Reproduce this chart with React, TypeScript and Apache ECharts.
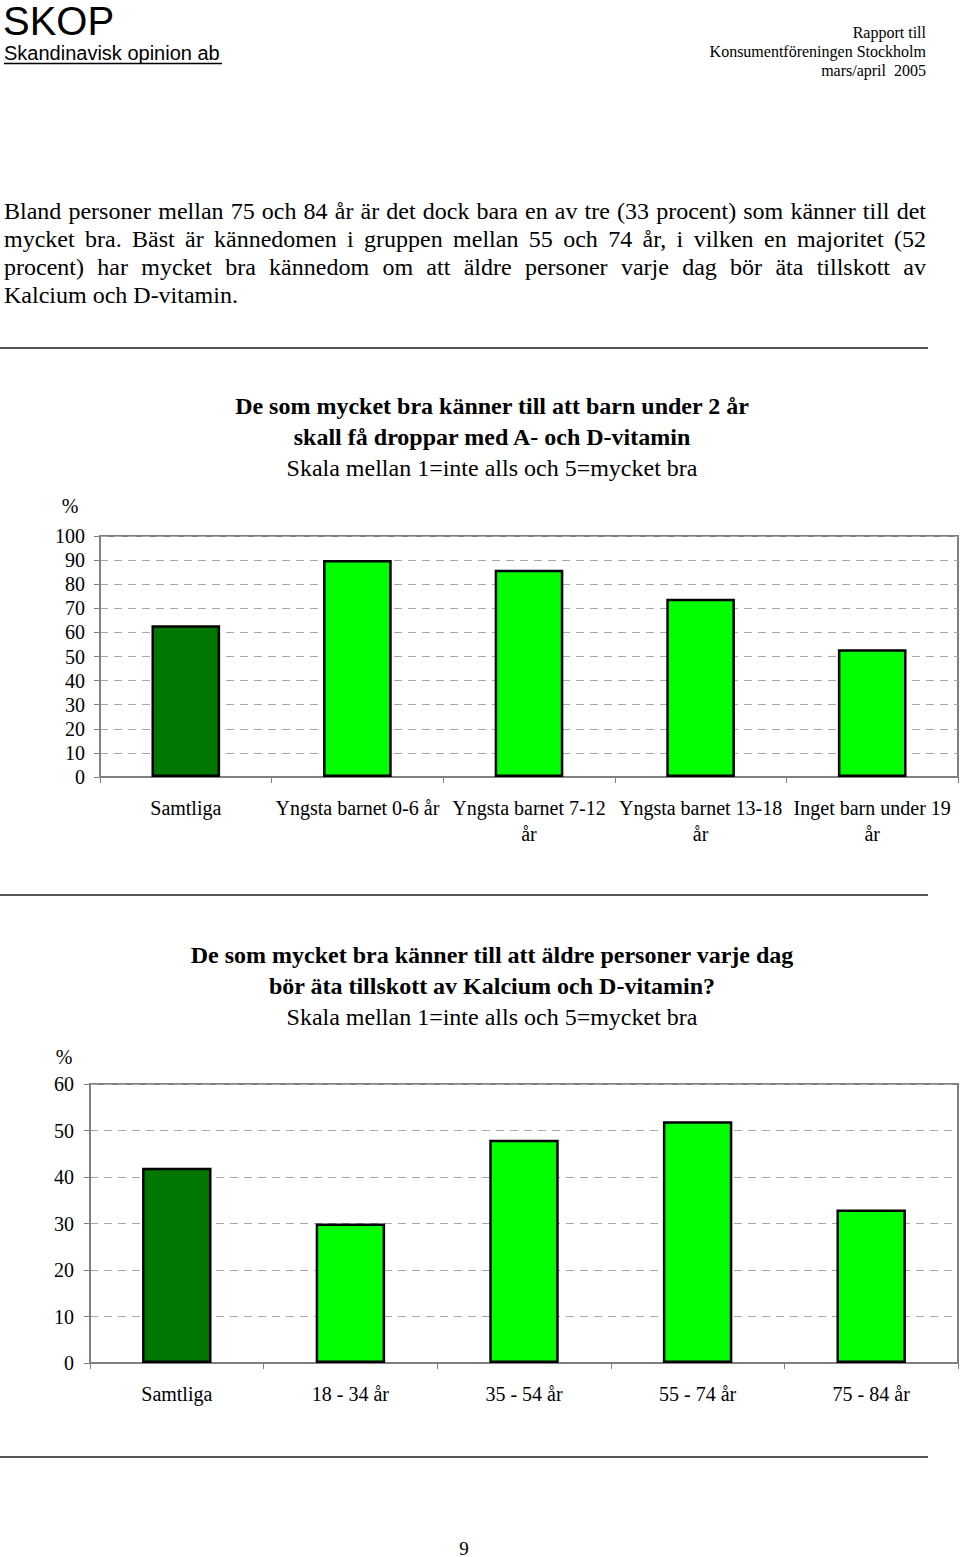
import React, { useEffect, useRef } from "react";
import * as echarts from "echarts";

const SERIF = "'Liberation Serif', 'Times New Roman', serif";
const SANS = "'Liberation Sans', Arial, sans-serif";

const headerRight = ["Rapport till", "Konsumentföreningen Stockholm", "mars/april\u00a0 2005"];

const paragraphLines = [
  "Bland personer mellan 75 och 84 år är det dock bara en av tre (33 procent) som känner till det",
  "mycket bra. Bäst är kännedomen i gruppen mellan 55 och 74 år, i vilken en majoritet (52",
  "procent) har mycket bra kännedom om att äldre personer varje dag bör äta tillskott av",
  "Kalcium och D-vitamin.",
];

const chart1Title = [
  "De som mycket bra känner till att barn under 2 år",
  "skall få droppar med A- och D-vitamin",
  "Skala mellan 1=inte alls och 5=mycket bra",
];
const chart1Categories = [
  "Samtliga",
  "Yngsta barnet 0-6 år",
  "Yngsta barnet 7-12\når",
  "Yngsta barnet 13-18\når",
  "Inget barn under 19\når",
];
const chart1Values = [63, 90, 86, 74, 53];

const chart2Title = [
  "De som mycket bra känner till att äldre personer varje dag",
  "bör äta tillskott av Kalcium och D-vitamin?",
  "Skala mellan 1=inte alls och 5=mycket bra",
];
const chart2Categories = ["Samtliga", "18 - 34 år", "35 - 54 år", "55 - 74 år", "75 - 84 år"];
const chart2Values = [42, 30, 48, 52, 33];

const DARK = "#007800";
const BRIGHT = "#00ff00";

function txt(text: string, x: number, y: number, font: string, align = "left", extra: any = {}) {
  return {
    type: "text",
    x,
    y,
    silent: true,
    style: {
      text,
      font,
      fill: "#000",
      align,
      verticalAlign: "middle",
      textAlign: align,
      textVerticalAlign: "middle",
      ...extra,
    },
  };
}

function justified(text: string, y: number, left: number, right: number, font: string, justify: boolean) {
  if (!justify) return [txt(text, left, y, font)];
  const ctx = document.createElement("canvas").getContext("2d")!;
  ctx.font = font;
  const words = text.split(" ");
  const widths = words.map((w) => ctx.measureText(w).width);
  const total = widths.reduce((a, b) => a + b, 0);
  const gap = (right - left - total) / (words.length - 1);
  let x = left;
  return words.map((w, i) => {
    const el = txt(w, x, y, font);
    x += widths[i] + gap;
    return el;
  });
}

function barData(values: number[]) {
  return values.map((v, i) => ({
    value: v,
    itemStyle: { color: i === 0 ? DARK : BRIGHT },
  }));
}

export default function App() {
  const ref = useRef<HTMLDivElement>(null);

  useEffect(() => {
    document.body.style.margin = "0";
    const chart = echarts.init(ref.current!, null, { renderer: "svg" });

    const pFont = `24px ${SERIF}`;
    const graphics: any[] = [];
    graphics.push(txt("SKOP", 3, 21, `40px ${SANS}`));
    graphics.push(txt("Skandinavisk opinion ab", 4, 53, `20px ${SANS}`));
    graphics.push({
      type: "line",
      silent: true,
      shape: { x1: 4, y1: 63.5, x2: 222, y2: 63.5 },
      style: { stroke: "#000", lineWidth: 1.5 },
    });
    headerRight.forEach((t, i) => graphics.push(txt(t, 926, 32 + i * 19, `16px ${SERIF}`, "right")));

    paragraphLines.forEach((t, i) => {
      graphics.push(...justified(t, 211 + i * 28, 4, 926, pFont, i < paragraphLines.length - 1));
    });

    [348, 895, 1457].forEach((y) =>
      graphics.push({
        type: "line",
        silent: true,
        shape: { x1: 0, y1: y, x2: 928, y2: y },
        style: { stroke: "#555", lineWidth: 2 },
      })
    );

    chart1Title.forEach((t, i) =>
      graphics.push(txt(t, 492, 406 + i * 31, `${i < 2 ? "bold " : ""}24px ${SERIF}`, "center"))
    );
    chart2Title.forEach((t, i) =>
      graphics.push(txt(t, 492, 955 + i * 31, `${i < 2 ? "bold " : ""}24px ${SERIF}`, "center"))
    );
    graphics.push(txt("%", 70, 506, `20px ${SERIF}`, "center"));
    graphics.push(txt("%", 64, 1057, `20px ${SERIF}`, "center"));
    graphics.push(txt("9", 464, 1548, `19px ${SERIF}`, "center"));

    const xAxisBase = (gridIndex: number, data: string[]) => ({
      type: "category",
      gridIndex,
      data,
      axisLine: { show: true, lineStyle: { color: "#808080", width: 2 } },
      axisTick: { show: true, length: 6, lineStyle: { color: "#808080", width: 1 } },
      axisLabel: {
        interval: 0,
        fontFamily: SERIF,
        fontSize: 20,
        color: "#000",
        margin: 18,
        lineHeight: 26,
      },
      splitLine: { show: false },
    });
    const yAxisBase = (gridIndex: number, max: number, margin: number) => ({
      type: "value",
      gridIndex,
      min: 0,
      max,
      interval: 10,
      axisLine: { show: true, lineStyle: { color: "#808080", width: 2 } },
      axisTick: { show: true, length: 6, lineStyle: { color: "#808080", width: 1 } },
      axisLabel: { fontFamily: SERIF, fontSize: 20, color: "#000", margin },
      splitLine: { show: true, lineStyle: { color: "#a8a8a8", type: [8, 6], width: 1 } },
    });

    chart.setOption({
      animation: false,
      backgroundColor: "#fff",
      grid: [
        { left: 100, top: 536, width: 858, height: 241, show: true, borderColor: "#808080", borderWidth: 2, backgroundColor: "transparent" },
        { left: 90, top: 1084, width: 868, height: 279, show: true, borderColor: "#808080", borderWidth: 2, backgroundColor: "transparent" },
      ],
      xAxis: [xAxisBase(0, chart1Categories), xAxisBase(1, chart2Categories)],
      yAxis: [yAxisBase(0, 100, 15), yAxisBase(1, 60, 16)],
      series: [
        {
          type: "bar",
          xAxisIndex: 0,
          yAxisIndex: 0,
          barWidth: "40%",
          data: barData(chart1Values),
          itemStyle: { borderColor: "#000", borderWidth: 2.5 },
        },
        {
          type: "bar",
          xAxisIndex: 1,
          yAxisIndex: 1,
          barWidth: "40%",
          data: barData(chart2Values),
          itemStyle: { borderColor: "#000", borderWidth: 2.5 },
        },
      ],
      graphic: graphics,
    });

    return () => chart.dispose();
  }, []);

  return <div ref={ref} style={{ width: 960, height: 1557 }} />;
}
